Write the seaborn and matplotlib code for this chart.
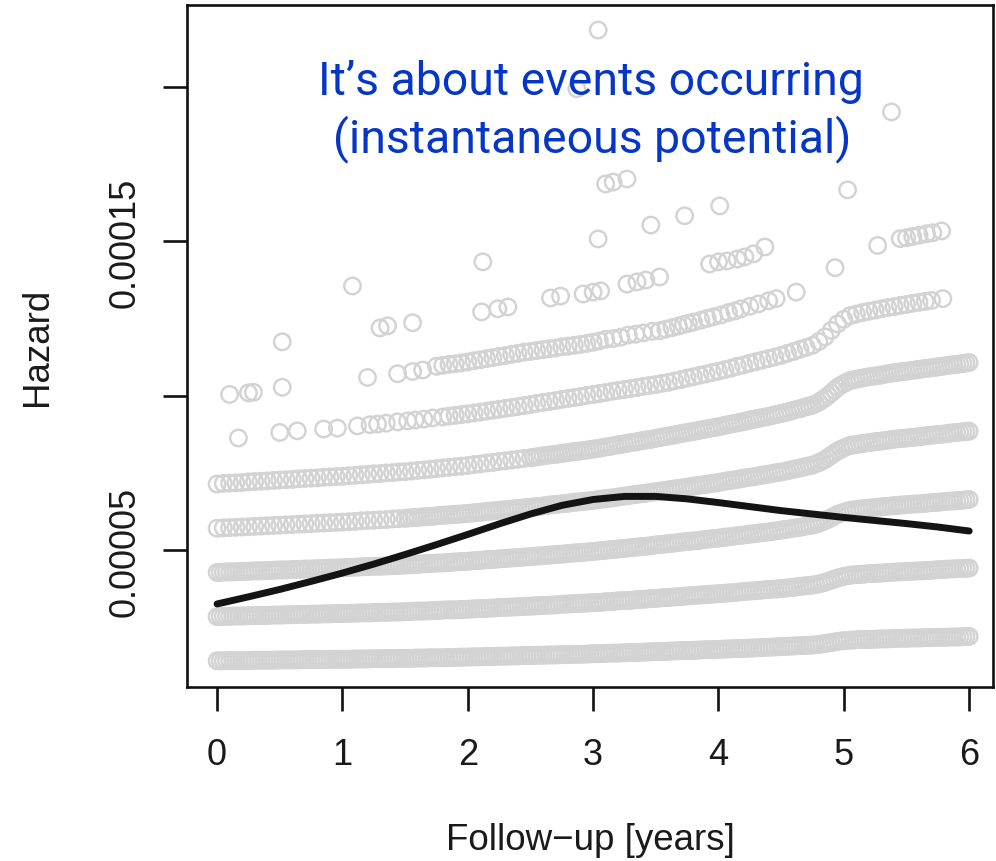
import matplotlib
matplotlib.use("Agg")
import matplotlib.pyplot as plt
import numpy as np
import pandas as pd
import seaborn as sns

# ---------------- data (hazard values in units of 1e-5) ----------------
# follow-up times (years) at which the densely observed bands were read
t_grid = [0.00, 0.05, 0.10, 0.15, 0.20, 0.25, 0.30, 0.35, 0.40, 0.45,
          0.50, 0.55, 0.60, 0.65, 0.70, 0.75, 0.80, 0.85, 0.90, 0.95,
          1.00, 1.05, 1.10, 1.15, 1.20, 1.25, 1.30, 1.35, 1.40, 1.45,
          1.50, 1.55, 1.60, 1.65, 1.70, 1.75, 1.80, 1.85, 1.90, 1.95,
          2.00, 2.05, 2.10, 2.15, 2.20, 2.25, 2.30, 2.35, 2.40, 2.45,
          2.50, 2.55, 2.60, 2.65, 2.70, 2.75, 2.80, 2.85, 2.90, 2.95,
          3.00, 3.05, 3.10, 3.15, 3.20, 3.25, 3.30, 3.35, 3.40, 3.45,
          3.50, 3.55, 3.60, 3.65, 3.70, 3.75, 3.80, 3.85, 3.90, 3.95,
          4.00, 4.05, 4.10, 4.15, 4.20, 4.25, 4.30, 4.35, 4.40, 4.45,
          4.50, 4.55, 4.60, 4.65, 4.70, 4.75, 4.80, 4.85, 4.90, 4.95,
          5.00, 5.05, 5.10, 5.15, 5.20, 5.25, 5.30, 5.35, 5.40, 5.45,
          5.50, 5.55, 5.60, 5.65, 5.70, 5.75, 5.80, 5.85, 5.90, 5.95,
          6.00]

# intermediate follow-up times where the bands are solid
t_mid = [0.025, 0.075, 0.125, 0.175, 0.225, 0.275, 0.325, 0.375, 0.425, 0.475,
         0.525, 0.575, 0.625, 0.675, 0.725, 0.775, 0.825, 0.875, 0.925, 0.975,
         1.025, 1.075, 1.125, 1.175, 1.225, 1.275, 1.325, 1.375, 1.425, 1.475,
         1.525, 1.575, 1.625, 1.675, 1.725, 1.775, 1.825, 1.875, 1.925, 1.975,
         2.025, 2.075, 2.125, 2.175, 2.225, 2.275, 2.325, 2.375, 2.425, 2.475,
         2.525, 2.575, 2.625, 2.675, 2.725, 2.775, 2.825, 2.875, 2.925, 2.975,
         3.025, 3.075, 3.125, 3.175, 3.225, 3.275, 3.325, 3.375, 3.425, 3.475,
         3.525, 3.575, 3.625, 3.675, 3.725, 3.775, 3.825, 3.875, 3.925, 3.975,
         4.025, 4.075, 4.125, 4.175, 4.225, 4.275, 4.325, 4.375, 4.425, 4.475,
         4.525, 4.575, 4.625, 4.675, 4.725, 4.775, 4.825, 4.875, 4.925, 4.975,
         5.025, 5.075, 5.125, 5.175, 5.225, 5.275, 5.325, 5.375, 5.425, 5.475,
         5.525, 5.575, 5.625, 5.675, 5.725, 5.775, 5.825, 5.875, 5.925, 5.975]

band1_e5 = [1.43, 1.43, 1.44, 1.44, 1.44, 1.44, 1.45, 1.45, 1.45, 1.45,
            1.46, 1.46, 1.46, 1.46, 1.47, 1.47, 1.47, 1.47, 1.48, 1.48,
            1.48, 1.48, 1.49, 1.49, 1.49, 1.50, 1.50, 1.50, 1.50, 1.51,
            1.51, 1.51, 1.52, 1.52, 1.53, 1.53, 1.53, 1.54, 1.54, 1.55,
            1.55, 1.56, 1.56, 1.57, 1.57, 1.58, 1.58, 1.59, 1.59, 1.60,
            1.60, 1.61, 1.61, 1.62, 1.62, 1.63, 1.63, 1.64, 1.64, 1.65,
            1.66, 1.66, 1.67, 1.68, 1.68, 1.69, 1.70, 1.70, 1.71, 1.72,
            1.73, 1.73, 1.74, 1.75, 1.76, 1.76, 1.77, 1.78, 1.79, 1.79,
            1.80, 1.81, 1.82, 1.83, 1.83, 1.84, 1.85, 1.86, 1.87, 1.88,
            1.89, 1.90, 1.91, 1.92, 1.93, 1.94, 1.96, 1.99, 2.02, 2.06,
            2.08, 2.10, 2.11, 2.12, 2.12, 2.13, 2.14, 2.14, 2.15, 2.16,
            2.16, 2.17, 2.17, 2.18, 2.18, 2.19, 2.19, 2.20, 2.20, 2.21,
            2.22]
band1_mid_e5 = [1.430, 1.435, 1.440, 1.440, 1.440, 1.445, 1.450, 1.450, 1.450, 1.455,
                1.460, 1.460, 1.460, 1.465, 1.470, 1.470, 1.470, 1.475, 1.480, 1.480,
                1.480, 1.485, 1.490, 1.490, 1.495, 1.500, 1.500, 1.500, 1.505, 1.510,
                1.510, 1.515, 1.520, 1.525, 1.530, 1.530, 1.535, 1.540, 1.545, 1.550,
                1.555, 1.560, 1.565, 1.570, 1.575, 1.580, 1.585, 1.590, 1.595, 1.600,
                1.605, 1.610, 1.615, 1.620, 1.625, 1.630, 1.635, 1.640, 1.645, 1.655,
                1.660, 1.665, 1.675, 1.680, 1.685, 1.695, 1.700, 1.705, 1.715, 1.725,
                1.730, 1.735, 1.745, 1.755, 1.760, 1.765, 1.775, 1.785, 1.790, 1.795,
                1.805, 1.815, 1.825, 1.830, 1.835, 1.845, 1.855, 1.865, 1.875, 1.885,
                1.895, 1.905, 1.915, 1.925, 1.935, 1.950, 1.975, 2.005, 2.040, 2.070,
                2.090, 2.105, 2.115, 2.120, 2.125, 2.135, 2.140, 2.145, 2.155, 2.160,
                2.165, 2.170, 2.175, 2.180, 2.185, 2.190, 2.195, 2.200, 2.205, 2.215]

band2_e5 = [2.86, 2.87, 2.87, 2.88, 2.88, 2.89, 2.89, 2.90, 2.90, 2.91,
            2.91, 2.92, 2.92, 2.93, 2.93, 2.94, 2.94, 2.95, 2.95, 2.96,
            2.96, 2.97, 2.97, 2.98, 2.98, 2.99, 3.00, 3.00, 3.01, 3.01,
            3.02, 3.03, 3.04, 3.04, 3.05, 3.06, 3.07, 3.08, 3.08, 3.09,
            3.10, 3.11, 3.12, 3.13, 3.14, 3.15, 3.16, 3.17, 3.18, 3.19,
            3.20, 3.21, 3.22, 3.23, 3.24, 3.26, 3.27, 3.28, 3.29, 3.30,
            3.31, 3.32, 3.34, 3.35, 3.37, 3.38, 3.39, 3.41, 3.42, 3.44,
            3.45, 3.47, 3.48, 3.50, 3.51, 3.53, 3.54, 3.56, 3.57, 3.59,
            3.60, 3.62, 3.63, 3.65, 3.67, 3.69, 3.70, 3.72, 3.74, 3.75,
            3.77, 3.79, 3.81, 3.84, 3.86, 3.88, 3.92, 3.97, 4.04, 4.11,
            4.16, 4.20, 4.22, 4.23, 4.25, 4.26, 4.27, 4.29, 4.30, 4.31,
            4.32, 4.33, 4.34, 4.35, 4.36, 4.38, 4.39, 4.40, 4.41, 4.42,
            4.43]
band2_mid_e5 = [2.865, 2.870, 2.875, 2.880, 2.885, 2.890, 2.895, 2.900, 2.905, 2.910,
                2.915, 2.920, 2.925, 2.930, 2.935, 2.940, 2.945, 2.950, 2.955, 2.960,
                2.965, 2.970, 2.975, 2.980, 2.985, 2.995, 3.000, 3.005, 3.010, 3.015,
                3.025, 3.035, 3.040, 3.045, 3.055, 3.065, 3.075, 3.080, 3.085, 3.095,
                3.105, 3.115, 3.125, 3.135, 3.145, 3.155, 3.165, 3.175, 3.185, 3.195,
                3.205, 3.215, 3.225, 3.235, 3.250, 3.265, 3.275, 3.285, 3.295, 3.305,
                3.315, 3.330, 3.345, 3.360, 3.375, 3.385, 3.400, 3.415, 3.430, 3.445,
                3.460, 3.475, 3.490, 3.505, 3.520, 3.535, 3.550, 3.565, 3.580, 3.595,
                3.610, 3.625, 3.640, 3.660, 3.680, 3.695, 3.710, 3.730, 3.745, 3.760,
                3.780, 3.800, 3.825, 3.850, 3.870, 3.900, 3.945, 4.005, 4.075, 4.135,
                4.180, 4.210, 4.225, 4.240, 4.255, 4.265, 4.280, 4.295, 4.305, 4.315,
                4.325, 4.335, 4.345, 4.355, 4.370, 4.385, 4.395, 4.405, 4.415, 4.425]

band3_e5 = [4.29, 4.30, 4.31, 4.31, 4.32, 4.33, 4.34, 4.34, 4.35, 4.36,
            4.37, 4.37, 4.38, 4.39, 4.40, 4.40, 4.41, 4.42, 4.43, 4.43,
            4.44, 4.45, 4.46, 4.47, 4.48, 4.49, 4.49, 4.50, 4.51, 4.52,
            4.53, 4.54, 4.55, 4.57, 4.58, 4.59, 4.60, 4.61, 4.63, 4.64,
            4.65, 4.67, 4.68, 4.70, 4.71, 4.73, 4.74, 4.76, 4.77, 4.79,
            4.80, 4.82, 4.83, 4.85, 4.87, 4.88, 4.90, 4.92, 4.93, 4.95,
            4.97, 4.99, 5.01, 5.03, 5.05, 5.07, 5.09, 5.11, 5.13, 5.15,
            5.18, 5.20, 5.22, 5.24, 5.27, 5.29, 5.31, 5.33, 5.36, 5.38,
            5.40, 5.43, 5.45, 5.48, 5.50, 5.53, 5.55, 5.58, 5.60, 5.63,
            5.66, 5.69, 5.72, 5.75, 5.79, 5.82, 5.88, 5.96, 6.06, 6.17,
            6.24, 6.30, 6.32, 6.35, 6.37, 6.39, 6.41, 6.43, 6.45, 6.47,
            6.48, 6.50, 6.51, 6.53, 6.55, 6.56, 6.58, 6.60, 6.61, 6.63,
            6.65]
band3_mid_e5 = [4.295, 4.305, 4.310, 4.315, 4.325, 4.335, 4.340, 4.345, 4.355, 4.365,
                4.370, 4.375, 4.385, 4.395, 4.400, 4.405, 4.415, 4.425, 4.430, 4.435,
                4.445, 4.455, 4.465, 4.475, 4.485, 4.490, 4.495, 4.505, 4.515, 4.525,
                4.535, 4.545, 4.560, 4.575, 4.585, 4.595, 4.605, 4.620, 4.635, 4.645,
                4.660, 4.675, 4.690, 4.705, 4.720, 4.735, 4.750, 4.765, 4.780, 4.795,
                4.810, 4.825, 4.840, 4.860, 4.875, 4.890, 4.910, 4.925, 4.940, 4.960,
                4.980, 5.000, 5.020, 5.040, 5.060, 5.080, 5.100, 5.120, 5.140, 5.165,
                5.190, 5.210, 5.230, 5.255, 5.280, 5.300, 5.320, 5.345, 5.370, 5.390,
                5.415, 5.440, 5.465, 5.490, 5.515, 5.540, 5.565, 5.590, 5.615, 5.645,
                5.675, 5.705, 5.735, 5.770, 5.805, 5.850, 5.920, 6.010, 6.115, 6.205,
                6.270, 6.310, 6.335, 6.360, 6.380, 6.400, 6.420, 6.440, 6.460, 6.475,
                6.490, 6.505, 6.520, 6.540, 6.555, 6.570, 6.590, 6.605, 6.620, 6.640]

band4_e5 = [5.72, 5.73, 5.74, 5.75, 5.76, 5.77, 5.78, 5.79, 5.80, 5.81,
            5.82, 5.83, 5.84, 5.85, 5.86, 5.87, 5.88, 5.89, 5.90, 5.91,
            5.92, 5.93, 5.94, 5.96, 5.97, 5.98, 5.99, 6.00, 6.02, 6.03,
            6.04, 6.06, 6.07, 6.09, 6.10, 6.12, 6.14, 6.15, 6.17, 6.18,
            6.20, 6.22, 6.24, 6.26, 6.28, 6.30, 6.32, 6.34, 6.36, 6.38,
            6.40, 6.42, 6.44, 6.47, 6.49, 6.51, 6.53, 6.56, 6.58, 6.60,
            6.62, 6.65, 6.68, 6.70, 6.73, 6.76, 6.79, 6.82, 6.84, 6.87,
            6.90, 6.93, 6.96, 6.99, 7.02, 7.05, 7.08, 7.11, 7.14, 7.17,
            7.20, 7.24, 7.27, 7.30, 7.34, 7.37, 7.40, 7.44, 7.47, 7.51,
            7.54, 7.58, 7.63, 7.67, 7.72, 7.76, 7.84, 7.94, 8.08, 8.22,
            8.32, 8.40, 8.43, 8.46, 8.49, 8.52, 8.54, 8.57, 8.60, 8.62,
            8.64, 8.66, 8.68, 8.71, 8.73, 8.75, 8.77, 8.80, 8.82, 8.84,
            8.86]
# band 4 at t_mid[30:]
band4_mid_e5 = [6.050, 6.065, 6.080, 6.095, 6.110, 6.130, 6.145, 6.160, 6.175, 6.190,
                6.210, 6.230, 6.250, 6.270, 6.290, 6.310, 6.330, 6.350, 6.370, 6.390,
                6.410, 6.430, 6.455, 6.480, 6.500, 6.520, 6.545, 6.570, 6.590, 6.610,
                6.635, 6.665, 6.690, 6.715, 6.745, 6.775, 6.805, 6.830, 6.855, 6.885,
                6.915, 6.945, 6.975, 7.005, 7.035, 7.065, 7.095, 7.125, 7.155, 7.185,
                7.220, 7.255, 7.285, 7.320, 7.355, 7.385, 7.420, 7.455, 7.490, 7.525,
                7.560, 7.605, 7.650, 7.695, 7.740, 7.800, 7.890, 8.010, 8.150, 8.270,
                8.360, 8.415, 8.445, 8.475, 8.505, 8.530, 8.555, 8.585, 8.610, 8.630,
                8.650, 8.670, 8.695, 8.720, 8.740, 8.760, 8.785, 8.810, 8.830, 8.850]

band5_e5 = [7.15, 7.17, 7.18, 7.19, 7.20, 7.22, 7.23, 7.24, 7.25, 7.27,
            7.28, 7.29, 7.30, 7.32, 7.33, 7.34, 7.35, 7.37, 7.38, 7.39,
            7.40, 7.42, 7.43, 7.45, 7.46, 7.48, 7.49, 7.51, 7.52, 7.54,
            7.55, 7.57, 7.59, 7.61, 7.63, 7.65, 7.67, 7.69, 7.71, 7.73,
            7.75, 7.78, 7.80, 7.83, 7.85, 7.88, 7.90, 7.93, 7.95, 7.98,
            8.00, 8.03, 8.06, 8.09, 8.11, 8.14, 8.17, 8.20, 8.22, 8.25,
            8.28, 8.31, 8.35, 8.38, 8.42, 8.45, 8.49, 8.52, 8.56, 8.59,
            8.63, 8.67, 8.70, 8.74, 8.78, 8.82, 8.85, 8.89, 8.93, 8.97,
            9.00, 9.05, 9.09, 9.13, 9.17, 9.22, 9.26, 9.30, 9.34, 9.39,
            9.43, 9.48, 9.54, 9.59, 9.65, 9.70, 9.80, 9.93, 10.10, 10.28,
            10.40, 10.50, 10.54, 10.58, 10.62, 10.65, 10.68, 10.72, 10.75, 10.78,
            10.80, 10.83, 10.86, 10.89, 10.91, 10.94, 10.97, 11.00, 11.02, 11.05,
            11.08]
# band 5 at t_mid[50:]
band5_mid_e5 = [8.015, 8.045, 8.075, 8.100, 8.125, 8.155, 8.185, 8.210, 8.235, 8.265,
                8.295, 8.330, 8.365, 8.400, 8.435, 8.470, 8.505, 8.540, 8.575, 8.610,
                8.650, 8.685, 8.720, 8.760, 8.800, 8.835, 8.870, 8.910, 8.950, 8.985,
                9.025, 9.070, 9.110, 9.150, 9.195, 9.240, 9.280, 9.320, 9.365, 9.410,
                9.455, 9.510, 9.565, 9.620, 9.675, 9.750, 9.865, 10.015, 10.190, 10.340,
                10.450, 10.520, 10.560, 10.600, 10.635, 10.665, 10.700, 10.735, 10.765, 10.790,
                10.815, 10.845, 10.875, 10.900, 10.925, 10.955, 10.985, 11.010, 11.035, 11.065]

# band 6: sparse start, then dense section at t_grid[36:115], then one last point
band6_start_t = [0.17, 0.50, 0.64, 0.85, 0.96, 1.12, 1.22, 1.28, 1.35, 1.44,
                 1.52, 1.58, 1.65, 1.72]
band6_start_e5 = [8.64, 8.82, 8.87, 8.93, 8.96, 9.03, 9.07, 9.09, 9.12, 9.16,
                  9.19, 9.22, 9.25, 9.29]
band6_dense_e5 = [9.32, 9.35, 9.37, 9.40, 9.42, 9.45, 9.48, 9.51, 9.54, 9.57,
                  9.60, 9.63, 9.66, 9.69, 9.72, 9.76, 9.79, 9.82, 9.85, 9.89,
                  9.92, 9.95, 9.98, 10.02, 10.05, 10.08, 10.11, 10.15, 10.18, 10.21,
                  10.24, 10.27, 10.31, 10.34, 10.37, 10.41, 10.44, 10.49, 10.53, 10.58,
                  10.62, 10.67, 10.71, 10.76, 10.80, 10.85, 10.90, 10.96, 11.00, 11.06,
                  11.11, 11.16, 11.21, 11.26, 11.31, 11.38, 11.44, 11.51, 11.57, 11.64,
                  11.76, 11.91, 12.12, 12.33, 12.48, 12.60, 12.65, 12.70, 12.74, 12.78,
                  12.82, 12.86, 12.89, 12.93, 12.96, 13.00, 13.03, 13.06, 13.09]
band6_end_t = [5.79]
band6_end_e5 = [13.15]

band7_t = [0.10, 0.25, 0.29, 0.52, 1.20, 1.44, 1.56, 1.64,
           1.75, 1.80, 1.85, 1.90, 1.95, 2.00, 2.05, 2.10, 2.15, 2.20,
           2.25, 2.30, 2.35, 2.40, 2.45, 2.50, 2.55, 2.60, 2.65, 2.70,
           2.75, 2.80, 2.85, 2.90, 2.95, 3.00, 3.05, 3.10,
           3.16, 3.22, 3.28, 3.34, 3.40, 3.47,
           3.53, 3.58, 3.63, 3.68, 3.72, 3.76, 3.80, 3.86, 3.91, 3.96,
           4.02, 4.08, 4.13, 4.18, 4.25, 4.32, 4.40, 4.46,
           4.62, 4.93, 5.27, 5.45, 5.50, 5.55, 5.60, 5.66, 5.71, 5.78]
band7_e5 = [10.05, 10.10, 10.12, 10.28, 10.60, 10.72, 10.79, 10.84,
            10.96, 10.99, 11.02, 11.04, 11.07, 11.10, 11.14, 11.17, 11.21, 11.24,
            11.28, 11.31, 11.35, 11.38, 11.42, 11.44, 11.47, 11.50, 11.53, 11.55,
            11.59, 11.61, 11.64, 11.67, 11.70, 11.74, 11.78, 11.83,
            11.86, 11.90, 11.97, 12.00, 12.04, 12.09,
            12.11, 12.16, 12.21, 12.26, 12.31, 12.35, 12.39, 12.45, 12.51, 12.56,
            12.62, 12.70, 12.75, 12.82, 12.90, 12.98, 13.08, 13.15,
            13.36, 14.15, 14.87, 15.09, 15.12, 15.16, 15.20, 15.25, 15.28, 15.34]

band8_t = [0.52, 1.30, 1.36, 1.56, 2.11, 2.24, 2.32, 2.66, 2.74, 2.92, 3.00, 3.06,
           3.27, 3.35, 3.42, 3.53, 3.93, 4.00, 4.07, 4.15, 4.21, 4.28, 4.37, 5.03]
band8_e5 = [11.75, 12.20, 12.27, 12.37, 12.72, 12.82, 12.88, 13.17, 13.23, 13.30, 13.36, 13.40,
            13.62, 13.69, 13.75, 13.85, 14.27, 14.34, 14.37, 14.43, 14.50, 14.60, 14.82, 16.67]

upper_t = [1.08, 2.12, 3.04, 3.46, 3.73, 4.01, 5.38, 3.10, 3.16, 3.27, 2.87, 3.04]
upper_e5 = [13.56, 14.34, 15.08, 15.53, 15.83, 16.15, 19.19, 16.86, 16.92, 17.02, 19.94, 21.84]

# smoothed average hazard curve
curve_t = [0.00, 0.25, 0.50, 0.75, 1.00, 1.25, 1.50, 1.75, 2.00, 2.25, 2.50, 2.75, 3.00,
           3.25, 3.50, 3.75, 4.00, 4.25, 4.50, 4.75, 5.00, 5.25, 5.50, 5.75, 6.00]
curve_e5 = [3.27, 3.50, 3.74, 4.00, 4.27, 4.56, 4.87, 5.19, 5.52, 5.86, 6.18, 6.46, 6.65,
            6.75, 6.75, 6.67, 6.55, 6.42, 6.29, 6.18, 6.07, 5.97, 5.87, 5.76, 5.63]

x_ticks = [0, 1, 2, 3, 4, 5, 6]
x_tick_labels = ["0", "1", "2", "3", "4", "5", "6"]
y_ticks_e5 = [5, 10, 15, 20]
y_tick_labels = ["0.00005", "", "0.00015", ""]
x_label = "Follow\u2212up [years]"
y_label = "Hazard"
note_lines = ["It\u2019s about events occurring", "(instantaneous potential)"]

# ---------------- assemble ----------------
pts_t = (list(t_grid) * 5 + list(t_mid) * 3 + t_mid[30:] + t_mid[50:]
         + band6_start_t + t_grid[36:115] + band6_end_t
         + band7_t + band8_t + upper_t)
pts_e5 = (band1_e5 + band2_e5 + band3_e5 + band4_e5 + band5_e5
          + band1_mid_e5 + band2_mid_e5 + band3_mid_e5 + band4_mid_e5 + band5_mid_e5
          + band6_start_e5 + band6_dense_e5 + band6_end_e5
          + band7_e5 + band8_e5 + upper_e5)
points = pd.DataFrame({"t": pts_t, "hazard": np.array(pts_e5) * 1e-5})
curve = pd.DataFrame({"t": curve_t, "hazard": np.array(curve_e5) * 1e-5})

# ---------------- style ----------------
sns.set_style("ticks")
plt.rcParams["font.family"] = ["Liberation Sans", "DejaVu Sans"]
plt.rcParams["axes.unicode_minus"] = True

W, H = 996, 862
fig = plt.figure(figsize=(W / 100, H / 100), dpi=100)
ax = fig.add_axes([187 / W, (H - 688) / H, (993 - 187) / W, (688 - 6) / H])

sns.scatterplot(data=points, x="t", y="hazard", ax=ax, marker="o", s=140,
                facecolor="none", edgecolor="#d3d3d3", linewidth=1.75,
                legend=False, zorder=2)
sns.lineplot(data=curve, x="t", y="hazard", ax=ax, color="#141414",
             linewidth=5.0, zorder=3, solid_capstyle="round")

ax.set_xlim(-0.24, 6.19)
ax.set_ylim(0.583e-5, 22.65e-5)

ax.set_xticks(x_ticks)
ax.set_xticklabels(x_tick_labels)
ax.set_yticks([v * 1e-5 for v in y_ticks_e5])
ax.set_yticklabels(y_tick_labels, rotation=90, va="center")

for side in ["left", "right", "top", "bottom"]:
    ax.spines[side].set_visible(True)
    ax.spines[side].set_color("#111111")
    ax.spines[side].set_linewidth(1.9)

ax.tick_params(axis="both", direction="out", length=17.3, width=1.9,
               color="#111111", labelsize=26, labelcolor="#1a1a1a")
ax.tick_params(axis="x", pad=19)
ax.tick_params(axis="y", pad=15)

ax.set_xlabel(x_label, fontsize=26.5, color="#1a1a1a")
ax.set_ylabel(y_label, fontsize=26.5, color="#1a1a1a")
ax.xaxis.set_label_coords(0.5, -(823 - 688) / 682)
ax.yaxis.set_label_coords(-(187 - 55) / 806, 0.5)

note_color = "#0636c8"
fig.text(591 / W, 1 - 95 / H, note_lines[0], ha="center", va="baseline",
         fontsize=33.4, color=note_color, family=["Roboto", "DejaVu Sans"], zorder=5)
fig.text(592 / W, 1 - 152 / H, note_lines[1], ha="center", va="baseline",
         fontsize=33.4, color=note_color, family=["Roboto", "DejaVu Sans"], zorder=5)

fig.savefig("out.png", dpi=100)
